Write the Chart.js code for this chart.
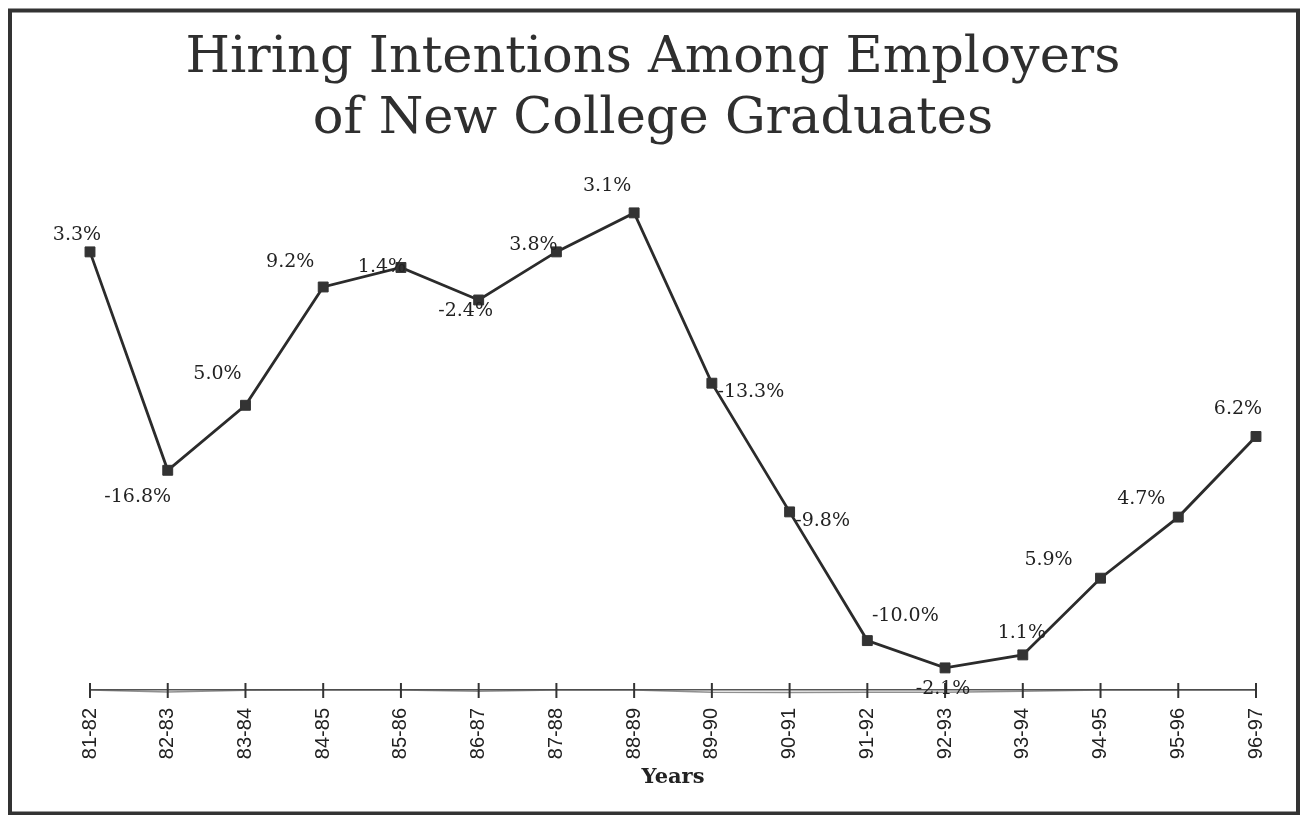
<!DOCTYPE html>
<html>
<head>
<meta charset="utf-8">
<script src="https://cdn.jsdelivr.net/npm/chart.js@4"></script>
<style>
  html, body { margin: 0; padding: 0; background: #fff; }
  #wrap { width: 1302px; height: 815px; }
</style>
</head>
<body>
<div id="wrap"><canvas id="hiringChart"></canvas></div>
<script>
// Survey years (x axis)
const years = ['81-82', '82-83', '83-84', '84-85', '85-86', '86-87', '87-88', '88-89',
  '89-90', '90-91', '91-92', '92-93', '93-94', '94-95', '95-96', '96-97'];

// Plotted hiring level (arbitrary index units)
const hiringLevel = [100, 83.2, 88.2, 97.3, 98.8, 96.3, 100, 103.0,
  89.9, 80.0, 70.1, 68.0, 69.0, 74.9, 79.6, 85.8];

// Year-over-year change printed next to each point
const changeLabels = ['3.3%', '-16.8%', '5.0%', '9.2%', '1.4%', '-2.4%', '3.8%', '3.1%',
  '-13.3%', '-9.8%', '-10.0%', '-2.1%', '1.1%', '5.9%', '4.7%', '6.2%'];

// Faint trace that runs along the axis
const axisTrace = [66.3, 66.15, 66.28, 66.3, 66.3, 66.2, 66.3, 66.3,
  66.12, 66.1, 66.12, 66.12, 66.2, 66.3, 66.3, 66.3];

// Chart heading
const titleLines = ['Hiring Intentions Among Employers', 'of New College Graduates'];

// Where each change label sits relative to its point (px)
const labelOffsets = [
  [-13, -17], [-30, 27], [-28, -31], [-33, -25], [-19, 0], [-13, 11], [-23, -7], [-27, -27],
  [39, 9], [33, 9], [38, -25], [-2, 21], [-1, -22], [-52, -18], [-37, -18], [-18, -27]
];

const ink = '#2b2b2b';

// White page, dark frame and the two-line heading
const framePlugin = {
  id: 'frame',
  beforeDraw(chart) {
    const ctx = chart.ctx;
    ctx.save();
    ctx.fillStyle = '#fff';
    ctx.fillRect(0, 0, chart.width, chart.height);
    ctx.strokeStyle = '#333';
    ctx.lineWidth = 4;
    ctx.strokeRect(10, 10.5, 1288, 803);

    ctx.fillStyle = '#2f2f2f';
    ctx.font = '51px "DejaVu Serif"';
    ctx.textAlign = 'center';
    ctx.textBaseline = 'alphabetic';
    ctx.fillText(titleLines[0], 653, 72);
    ctx.fillText(titleLines[1], 653, 133);
    ctx.restore();
  }
};

// Tick marks crossing the axis line
const crossTicksPlugin = {
  id: 'crossTicks',
  afterDatasetsDraw(chart) {
    const scale = chart.scales.x;
    const ctx = chart.ctx;
    const y = chart.chartArea.bottom;
    ctx.save();
    ctx.strokeStyle = '#333';
    ctx.lineWidth = 2;
    scale.ticks.forEach((t, i) => {
      const x = scale.getPixelForTick(i);
      ctx.beginPath();
      ctx.moveTo(x, y - 7);
      ctx.lineTo(x, y + 8);
      ctx.stroke();
    });
    ctx.restore();
  }
};

// Percent labels next to the points
const changeLabelPlugin = {
  id: 'changeLabels',
  afterDatasetsDraw(chart) {
    const meta = chart.getDatasetMeta(0);
    const ctx = chart.ctx;
    ctx.save();
    ctx.font = '19px "DejaVu Serif"';
    ctx.fillStyle = '#222';
    ctx.textAlign = 'center';
    ctx.textBaseline = 'middle';
    meta.data.forEach((pt, i) => {
      const [dx, dy] = labelOffsets[i];
      ctx.fillText(changeLabels[i], pt.x + dx, pt.y + dy);
    });
    ctx.restore();
  }
};

new Chart(document.getElementById('hiringChart').getContext('2d'), {
  type: 'line',
  data: {
    labels: years,
    datasets: [{
      label: 'Hiring level',
      data: hiringLevel,
      borderColor: ink,
      borderWidth: 2.8,
      pointStyle: 'rect',
      pointRadius: 7,
      pointBackgroundColor: '#333',
      pointBorderColor: '#333',
      pointBorderWidth: 1,
      tension: 0
    }, {
      label: 'Axis trace',
      data: axisTrace,
      borderColor: 'rgba(70, 70, 70, 0.6)',
      borderWidth: 1.5,
      pointRadius: 0,
      clip: false,
      tension: 0
    }]
  },
  options: {
    responsive: true,
    maintainAspectRatio: false,
    animation: false,
    layout: {
      padding: { left: 90, right: 46, top: 190, bottom: 0 }
    },
    plugins: {
      legend: { display: false },
      tooltip: { enabled: false },
      title: { display: false }
    },
    scales: {
      x: {
        offset: false,
        grid: { display: false, drawTicks: false },
        border: { display: true, color: '#555', width: 1.5 },
        ticks: {
          color: '#222',
          font: { family: '"Liberation Sans"', size: 20 },
          minRotation: 90,
          maxRotation: 90,
          padding: 18,
          autoSkip: false
        },
        title: {
          display: true,
          text: 'Years',
          color: '#222',
          font: { family: '"DejaVu Serif"', size: 21, weight: 'bold' },
          padding: { top: 0, bottom: 25 }
        },
        afterFit(scale) {
          scale.height = 125;
        }
      },
      y: {
        display: false,
        min: 66.3,
        max: 104.76
      }
    }
  },
  plugins: [framePlugin, crossTicksPlugin, changeLabelPlugin]
});
</script>
</body>
</html>
